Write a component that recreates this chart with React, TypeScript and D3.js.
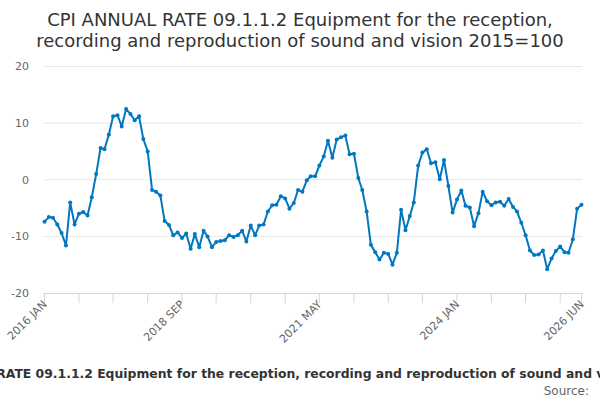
import * as d3 from "d3"

// CPI annual rate, monthly, 2016 JAN .. 2026 JUN
const START_YEAR = 2016
const rates = [
  -7.4, -6.6, -6.7, -7.9, -9.4, -11.6, -4.0, -7.9, -6.0, -5.7,
  -6.3, -3.1, 1.0, 5.6, 5.4, 8.0, 11.2, 11.4, 9.4, 12.5,
  11.6, 10.5, 11.2, 7.2, 5.0, -1.8, -2.1, -2.8, -7.3, -8.0,
  -9.8, -9.3, -10.3, -9.5, -12.2, -9.6, -11.9, -9.0, -10.0, -11.9,
  -11.0, -10.8, -10.7, -9.8, -10.1, -9.8, -9.0, -10.9, -8.1, -9.8,
  -8.1, -7.9, -5.6, -4.5, -4.4, -2.9, -3.3, -5.1, -4.1, -1.8,
  -2.1, -0.1, 0.6, 0.6, 2.5, 4.1, 6.9, 3.9, 7.1, 7.5,
  7.8, 4.5, 4.6, 0.3, -1.8, -5.6, -11.5, -12.8, -14.1, -12.9,
  -13.1, -15.0, -12.9, -5.3, -8.9, -6.4, -4.0, 2.5, 4.8, 5.4,
  2.9, 3.1, 0.1, 3.5, -1.1, -5.8, -3.5, -1.9, -4.6, -4.9,
  -8.2, -5.9, -2.1, -3.8, -4.5, -4.0, -3.9, -4.6, -3.4, -4.8,
  -5.6, -7.6, -9.8, -12.5, -13.3, -13.2, -12.5, -15.8, -13.9, -12.6,
  -11.8, -12.8, -12.9, -10.5, -5.1, -4.4,
]

const yTicks = [-20, -10, 0, 10, 20]
const labelMonths = [0, 32, 64, 96, 125]
const labelTexts = ["2016 JAN", "2018 SEP", "2021 MAY", "2024 JAN", "2026 JUN"]

const TITLE_1 = "CPI ANNUAL RATE 09.1.1.2 Equipment for the reception,"
const TITLE_2 = "recording and reproduction of sound and vision 2015=100"
const CAPTION =
  "CPI ANNUAL RATE 09.1.1.2 Equipment for the reception, recording and reproduction of sound and vision 2015=100"

const W = 600
const H = 400
const LEFT = 44.5
const RIGHT = 581.5
const TOP = 66.5
const BOTTOM = 293
const LINE = "#0077c0"
const FONT = "'DejaVu Sans', sans-serif"

const monthDate = (i: number) => new Date(START_YEAR, i, 1)

export default function App() {
  const dates = rates.map((_, i) => monthDate(i))
  const x = d3
    .scaleTime()
    .domain([dates[0], dates[dates.length - 1]])
    .range([LEFT, RIGHT])
  const y = d3.scaleLinear().domain([-20, 20]).range([BOTTOM, TOP])

  const tickMonths = [...d3.range(0, rates.length, 8), rates.length - 1]

  const line = d3
    .line<number>()
    .x((_, i) => x(dates[i]))
    .y((d) => y(d))

  return (
    <svg
      width={W}
      height={H}
      style={{ position: "absolute", left: 0, top: 0, fontFamily: FONT }}
    >
      <rect width={W} height={H} fill="#fff" />

      <text x={300} y={26} textAnchor="middle" fontSize={18} fill="#333">
        {TITLE_1}
      </text>
      <text x={300} y={47} textAnchor="middle" fontSize={18} fill="#333">
        {TITLE_2}
      </text>

      {/* grid + y labels */}
      {yTicks.map((t) => (
        <g key={t}>
          {t !== -20 && (
            <line x1={LEFT - 1} x2={RIGHT + 1} y1={y(t)} y2={y(t)} stroke="#e6e6e6" />
          )}
          <text
            x={29}
            y={y(t)}
            dy="0.35em"
            textAnchor="end"
            fontSize={11}
            fill="#666"
          >
            {t}
          </text>
        </g>
      ))}

      {/* x axis */}
      <line x1={LEFT - 1} x2={RIGHT + 1} y1={BOTTOM + 0.5} y2={BOTTOM + 0.5} stroke="#ccd6eb" />
      {tickMonths.map((m) => (
        <line
          key={m}
          x1={x(monthDate(m))}
          x2={x(monthDate(m))}
          y1={BOTTOM}
          y2={BOTTOM + 10}
          stroke="#ccd6eb"
        />
      ))}
      {labelMonths.map((m, i) => {
        const px = x(monthDate(m)) + 3
        const py = BOTTOM + 12
        return (
          <text
            key={m}
            transform={`translate(${px},${py}) rotate(-45)`}
            textAnchor="end"
            fontSize={11}
            fill="#666"
          >
            {labelTexts[i]}
          </text>
        )
      })}

      <path d={line(rates) ?? ""} fill="none" stroke={LINE} strokeWidth={2} strokeLinejoin="round" />
      {rates.map((v, i) => (
        <circle key={i} cx={x(dates[i])} cy={y(v)} r={2} fill={LINE} />
      ))}

      <text x={310} y={378} textAnchor="middle" fontSize={12.4} fontWeight="bold" fill="#333">
        {CAPTION}
      </text>
      <text x={589} y={395} textAnchor="end" fontSize={12} fill="#666">
        Source:
      </text>
    </svg>
  )
}
